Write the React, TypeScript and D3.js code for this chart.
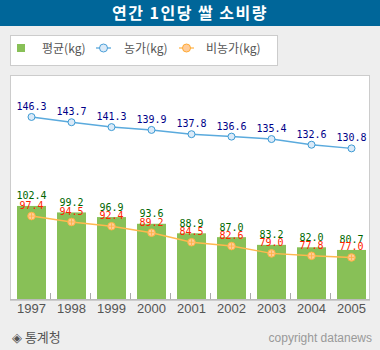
import React from "react";
import * as d3 from "d3";

const years = ["1997", "1998", "1999", "2000", "2001", "2002", "2003", "2004", "2005"];
const avgValues = [102.4, 99.2, 96.9, 93.6, 88.9, 87.0, 83.2, 82.0, 80.7];
const farmValues = [146.3, 143.7, 141.3, 139.9, 137.8, 136.6, 135.4, 132.6, 130.8];
const nonFarmValues = [97.4, 94.5, 92.4, 89.2, 84.5, 82.6, 79.0, 77.8, 77.0];
const legendLabels = ["평균(kg)", "농가(kg)", "비농가(kg)"];

const W = 380;
const H = 350;
const plot = { left: 10, right: 370, top: 75, bottom: 300 };

export default function App() {
  const x = d3.scaleBand<string>().domain(years).range([plot.left, plot.right]);
  const y = d3.scaleLinear().domain([56, 167]).range([plot.bottom, plot.top]);
  const cx = (yr: string) => (x(yr) as number) + 21.5;
  const barW = 29;

  const farmLine = d3
    .line<number>()
    .x((_, i) => cx(years[i]))
    .y((d) => y(d));

  const numFont = "'DejaVu Sans Mono', monospace";
  const sans = "'Liberation Sans', Arial, sans-serif";

  return (
    <svg
      width={W}
      height={H}
      style={{ position: "absolute", left: 0, top: 0, display: "block" }}
    >
      <rect x={0} y={0} width={W} height={H} fill="#eeeeee" />
      {/* title */}
      <rect x={0} y={0} width={W} height={26} fill="#006699" />
      <text
        x={190}
        y={19}
        textAnchor="middle"
        fill="#ffffff"
        fontSize={16}
        fontWeight="bold"
        letterSpacing={1.5}
        fontFamily="'Noto Sans CJK KR', sans-serif"
      >
        연간 1인당 쌀 소비량
      </text>

      {/* legend */}
      <rect x={10.5} y={35.5} width={267} height={30} fill="#ffffff" stroke="#cccccc" />
      <rect x={17} y={44} width={8} height={8} fill="#88c057" />
      <text x={42} y={53} fontSize={12} fill="#555" fontFamily="'Noto Sans CJK KR', sans-serif">
        {legendLabels[0]}
      </text>
      <line x1={96} x2={111} y1={48} y2={48} stroke="#4a9fd8" strokeWidth={1.2} />
      <circle cx={103.5} cy={48} r={4} fill="#dbeaf8" stroke="#4a9fd8" strokeWidth={1} />
      <text x={124} y={53} fontSize={12} fill="#555" fontFamily="'Noto Sans CJK KR', sans-serif">
        {legendLabels[1]}
      </text>
      <line x1={179} x2={194} y1={48} y2={48} stroke="#ffb040" strokeWidth={1.2} />
      <circle cx={186.5} cy={48} r={4} fill="#ffcc99" stroke="#ffaa33" strokeWidth={1} />
      <text x={206} y={53} fontSize={12} fill="#555" fontFamily="'Noto Sans CJK KR', sans-serif">
        {legendLabels[2]}
      </text>

      {/* plot area */}
      <rect
        x={plot.left + 0.5}
        y={plot.top + 0.5}
        width={plot.right - plot.left - 1}
        height={plot.bottom - plot.top}
        fill="#ffffff"
        stroke="#cccccc"
      />

      {/* bars */}
      {avgValues.map((v, i) => (
        <rect
          key={"b" + i}
          x={(x(years[i]) as number) + 7}
          y={y(v)}
          width={barW}
          height={plot.bottom - y(v)}
          fill="#88c057"
        />
      ))}

      {/* axis */}
      <line x1={plot.left} x2={plot.right} y1={299.5} y2={299.5} stroke="#bbbbbb" />
      {years.slice(1).map((yr) => (
        <line
          key={"t" + yr}
          x1={(x(yr) as number) + 0.5}
          x2={(x(yr) as number) + 0.5}
          y1={293}
          y2={299}
          stroke="#aaaaaa"
        />
      ))}
      {years.map((yr) => (
        <text
          key={"x" + yr}
          x={cx(yr)}
          y={313}
          textAnchor="middle"
          fontSize={13}
          fill="#555"
          fontFamily="'Liberation Sans Narrow', 'Liberation Sans', sans-serif"
        >
          {yr}
        </text>
      ))}

      {/* farm line */}
      <path d={farmLine(farmValues) || ""} fill="none" stroke="#5aaadd" strokeWidth={1.5} />
      {farmValues.map((v, i) => (
        <circle
          key={"fc" + i}
          cx={cx(years[i])}
          cy={y(v)}
          r={3.5}
          fill="#dbeaf8"
          stroke="#3d9bd4"
          strokeWidth={1}
        />
      ))}

      {/* non-farm line */}
      <path d={farmLine(nonFarmValues) || ""} fill="none" stroke="#ffb84d" strokeWidth={1.5} />
      {nonFarmValues.map((v, i) => (
        <g key={"nc" + i}>
          <circle cx={cx(years[i])} cy={y(v)} r={3.8} fill="#ffcc99" stroke="#ffb040" strokeWidth={1} />
          <line
            x1={cx(years[i]) - 3}
            x2={cx(years[i]) + 3}
            y1={y(v)}
            y2={y(v)}
            stroke="#ffb040"
            strokeWidth={0.8}
          />
          <line
            x1={cx(years[i])}
            x2={cx(years[i])}
            y1={y(v) - 3}
            y2={y(v) + 3}
            stroke="#ffb040"
            strokeWidth={0.8}
          />
        </g>
      ))}

      {/* labels */}
      {farmValues.map((v, i) => (
        <text
          key={"fl" + i}
          x={cx(years[i])}
          y={y(v) - 7}
          textAnchor="middle"
          fontSize={10}
          fill="#000088"
          fontFamily={numFont}
        >
          {v.toFixed(1)}
        </text>
      ))}
      {avgValues.map((v, i) => (
        <text
          key={"al" + i}
          x={cx(years[i])}
          y={y(v) - 6.5}
          textAnchor="middle"
          fontSize={10}
          fill="#006600"
          fontFamily={numFont}
        >
          {v.toFixed(1)}
        </text>
      ))}
      {nonFarmValues.map((v, i) => (
        <text
          key={"nl" + i}
          x={cx(years[i])}
          y={y(v) - 7}
          textAnchor="middle"
          fontSize={10}
          fill="#ff2200"
          fontFamily={numFont}
        >
          {v.toFixed(1)}
        </text>
      ))}

      {/* footer */}
      <text x={12} y={342} fontSize={13} fill="#555" fontFamily="'Noto Sans CJK KR', sans-serif">
        ◈ 통계청
      </text>
      <text x={372} y={342} textAnchor="end" fontSize={12} fill="#999" fontFamily={sans}>
        copyright datanews
      </text>
    </svg>
  );
}
